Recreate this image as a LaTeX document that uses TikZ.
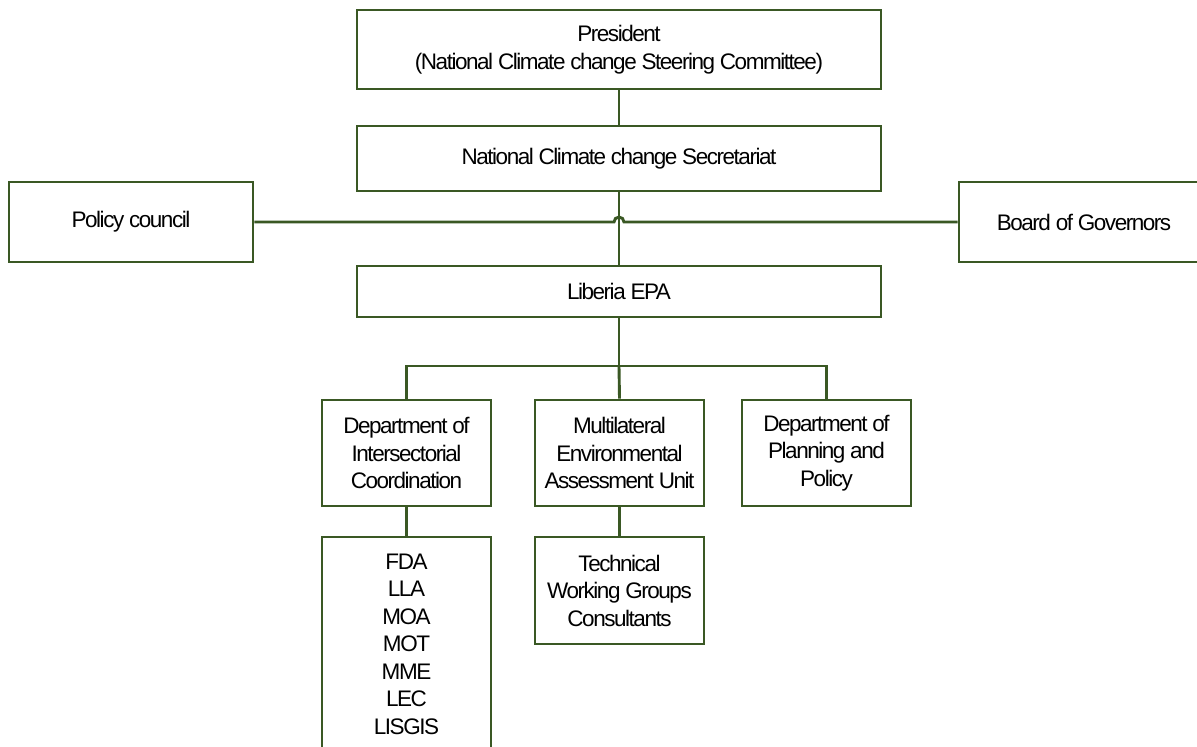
\documentclass[tikz,border=0pt]{standalone}
\usepackage{fontspec}
\setmainfont{Liberation Sans}[LetterSpace=-6.5]
\definecolor{boxline}{RGB}{58,88,36}
\begin{document}
\begin{tikzpicture}[x=1pt,y=1pt,
  box/.style={draw=boxline,line width=2.9pt,fill=white,inner sep=0pt,align=center,
    font=\fontsize{22.5}{27.5}\selectfont},
  conn/.style={draw=boxline,line width=2.9pt}]
\useasboundingbox (0,0) rectangle (1197,-747);
\node[box,minimum width=524,minimum height=79] (pres) at (619,-49.5) {President\\(National Climate change Steering Committee)};
\node[box,minimum width=524,minimum height=65] (sec) at (619,-158.5) {National Climate change Secretariat};
\node[box,minimum width=244,minimum height=80] (pol) at (131,-222) {Policy council};
\node[box,minimum width=250,minimum height=80] (gov) at (1084,-222) {Board of Governors};
\node[box,minimum width=524,minimum height=51] (epa) at (619,-291.5) {Liberia EPA};
\node[box,minimum width=169,minimum height=106] (dic) at (406.5,-453) {Department of\\Intersectorial\\Coordination};
\node[box,minimum width=169,minimum height=106] (mea) at (619.5,-453) {Multilateral\\Environmental\\Assessment Unit};
\node[box,minimum width=169,minimum height=106] (dpp) at (826.5,-453) {Department of\\Planning and\\Policy};
\node[box,minimum width=169,minimum height=214] (list) at (406.5,-644) {FDA\\LLA\\MOA\\MOT\\MME\\LEC\\LISGIS};
\node[box,minimum width=169,minimum height=107] (twg) at (619.5,-590.5) {Technical\\Working Groups\\Consultants};
\coordinate (hopL) at (614,-222);
\coordinate (hopR) at (624,-222);
\coordinate (branch) at (619,-366);
\draw[conn] (pres.south) -- (sec.north);
\draw[conn] (sec.south) -- (epa.north);
\draw[conn] (pol.east) -- (hopL) arc[start angle=180,end angle=0,radius=5] -- (gov.west);
\draw[conn] (epa.south) -- (branch);
\draw[conn] (dic.north) |- (branch) -| (dpp.north);
\draw[conn] (branch) -- (mea.north);
\draw[conn] (dic.south) -- (list.north);
\draw[conn] (mea.south) -- (twg.north);
\end{tikzpicture}
\end{document}
